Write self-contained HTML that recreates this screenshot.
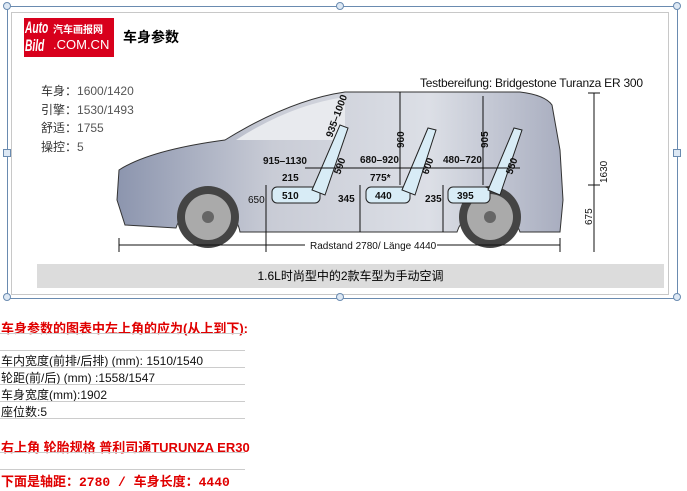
<!DOCTYPE html>
<html><head><meta charset="utf-8"><style>
body{margin:0;width:687px;height:491px;background:#fff;position:relative;overflow:hidden;font-family:"Liberation Sans","Noto Sans CJK SC",sans-serif}
.a{position:absolute}
.h{position:absolute;width:6px;height:6px;border:1px solid #6a8bb0;background:#dde8f4}
.c{border-radius:50%}
.red{color:#e00000;font-weight:bold;font-size:13px}
.ln{position:absolute;left:0;width:245px;height:1px;background:#ccc}
.t{position:absolute;left:1px;font-size:12px;color:#111}
</style></head><body>
<div class="a" style="left:7px;top:6px;width:669px;height:291px;border:1px solid #6a8bb0"></div>
<div class="a" style="left:11px;top:12px;width:656px;height:281px;border:1px solid #c8c8c8"></div>
<div class="h c" style="left:3px;top:2px"></div><div class="h c" style="left:336px;top:2px"></div><div class="h c" style="left:673px;top:2px"></div>
<div class="h" style="left:3px;top:149px"></div><div class="h" style="left:673px;top:149px"></div>
<div class="h c" style="left:3px;top:293px"></div><div class="h c" style="left:336px;top:293px"></div><div class="h c" style="left:673px;top:293px"></div>
<div class="a" style="left:24px;top:18px;width:90px;height:39px;background:#d8001c;color:#fff;overflow:hidden">
<div class="a" style="left:1px;top:1px;font:bold italic 17px/18px 'Liberation Sans';transform:scaleX(0.6);transform-origin:0 0">Auto<br>Bild</div>
<div class="a" style="left:29px;top:3px;font-size:10px;font-weight:bold;white-space:nowrap">汽车画报网</div>
<div class="a" style="left:29px;top:19px;font-size:13px;white-space:nowrap">.COM.CN</div></div>
<div class="a" style="left:123px;top:27px;font-size:14px;font-weight:bold">车身参数</div>
<div class="a" style="left:41px;top:82px;font-size:12px;line-height:18.5px;color:#333">车身：<span style="color:#555">1600/1420</span><br>引擎：<span style="color:#555">1530/1493</span><br>舒适：<span style="color:#555">1755</span><br>操控：<span style="color:#555">5</span></div>
<svg class="a" style="left:0;top:0" width="687" height="300" font-family="Liberation Sans,sans-serif" font-weight="bold" font-size="10">
<defs><linearGradient id="g" x1="0" x2="1"><stop offset="0" stop-color="#8c95ae"/><stop offset=".35" stop-color="#c9ccd6"/><stop offset=".7" stop-color="#dcdfe6"/><stop offset="1" stop-color="#a8adbf"/></linearGradient></defs>
<path d="M117 200 L119 170 Q150 150 225 140 Q290 100 345 92 L520 92 Q545 95 552 105 L560 150 L563 200 L560 232 L520 232 A33 33 0 0 0 457 232 L240 232 A33 33 0 0 0 176 228 L125 225 Z" fill="url(#g)" stroke="#333" stroke-width="1"/>
<path d="M236 140 Q290 105 345 97 L345 140 Z" fill="#e8eaee"/>
<circle cx="208" cy="217" r="31" fill="#444"/><circle cx="208" cy="217" r="23" fill="#aaa"/><circle cx="208" cy="217" r="6" fill="#666"/>
<circle cx="490" cy="217" r="31" fill="#444"/><circle cx="490" cy="217" r="23" fill="#aaa"/><circle cx="490" cy="217" r="6" fill="#666"/>
<g fill="#d8ecf6" stroke="#222"><rect x="272" y="187" width="48" height="16" rx="5"/><rect x="366" y="187" width="44" height="16" rx="5"/><rect x="448" y="187" width="42" height="16" rx="5"/>
<path d="M312 190 L340 125 L348 128 L325 195Z"/><path d="M402 190 L428 128 L436 130 L415 195Z"/><path d="M488 190 L514 128 L522 130 L500 195Z"/></g>
<g stroke="#111" fill="none"><line x1="119" y1="245" x2="305" y2="245"/><line x1="437" y1="245" x2="560" y2="245"/><line x1="119" y1="238" x2="119" y2="252"/><line x1="560" y1="238" x2="560" y2="252"/>
<line x1="594" y1="93" x2="594" y2="252"/><line x1="588" y1="93" x2="600" y2="93"/><line x1="588" y1="185" x2="600" y2="185"/>
<line x1="266" y1="185" x2="266" y2="252"/><line x1="360" y1="185" x2="360" y2="232"/><line x1="443" y1="185" x2="443" y2="232"/>
<line x1="400" y1="92" x2="400" y2="185"/><line x1="483" y1="96" x2="483" y2="185"/><line x1="305" y1="168" x2="520" y2="168"/></g>
<g fill="#111"><text x="263" y="164">915–1130</text><text x="282" y="181">215</text><text x="248" y="203" font-weight="normal">650</text><text x="282" y="199">510</text><text x="338" y="202">345</text>
<text x="360" y="163">680–920</text><text x="370" y="181">775*</text><text x="375" y="199">440</text><text x="425" y="202">235</text><text x="443" y="163">480–720</text><text x="457" y="199">395</text>
<text x="310" y="249" font-weight="normal">Radstand 2780/ Länge 4440</text>
<text x="420" y="87" font-weight="normal" font-size="12" textLength="223">Testbereifung: Bridgestone Turanza ER 300</text>
<text transform="translate(332,138) rotate(-70)">935–1000</text><text transform="translate(340,175) rotate(-70)">590</text>
<text transform="translate(404,148) rotate(-90)">960</text><text transform="translate(428,175) rotate(-70)">600</text>
<text transform="translate(488,148) rotate(-90)">905</text><text transform="translate(512,175) rotate(-70)">550</text>
<text transform="translate(607,183) rotate(-90)" font-weight="normal">1630</text><text transform="translate(592,225) rotate(-90)" font-weight="normal">675</text></g>
</svg>
<div class="a" style="left:37px;top:264px;width:627px;height:24px;background:#dcdcdc;font-size:12px;line-height:24px;text-align:center">1.6L时尚型中的2款车型为手动空调</div>
<div class="a red" style="left:1px;top:318px">车身参数的图表中左上角的应为(从上到下):</div>
<div class="ln" style="top:333px"></div>
<div class="ln" style="top:350px"></div>
<div class="t" style="top:352px">车内宽度(前排/后排) (mm): 1510/1540</div>
<div class="ln" style="top:367px"></div>
<div class="t" style="top:369px">轮距(前/后) (mm) :1558/1547</div>
<div class="ln" style="top:384px"></div>
<div class="t" style="top:386px">车身宽度(mm):1902</div>
<div class="ln" style="top:401px"></div>
<div class="t" style="top:403px">座位数:5</div>
<div class="ln" style="top:418px"></div>
<div class="a red" style="left:1px;top:437px">右上角 轮胎规格 普利司通TURUNZA ER30</div>
<div class="ln" style="top:452px"></div>
<div class="ln" style="top:469px"></div>
<div class="a red" style="left:1px;top:471px;font-family:'Liberation Mono','Noto Sans CJK SC',monospace">下面是轴距：2780 / 车身长度：4440</div>
</body></html>
